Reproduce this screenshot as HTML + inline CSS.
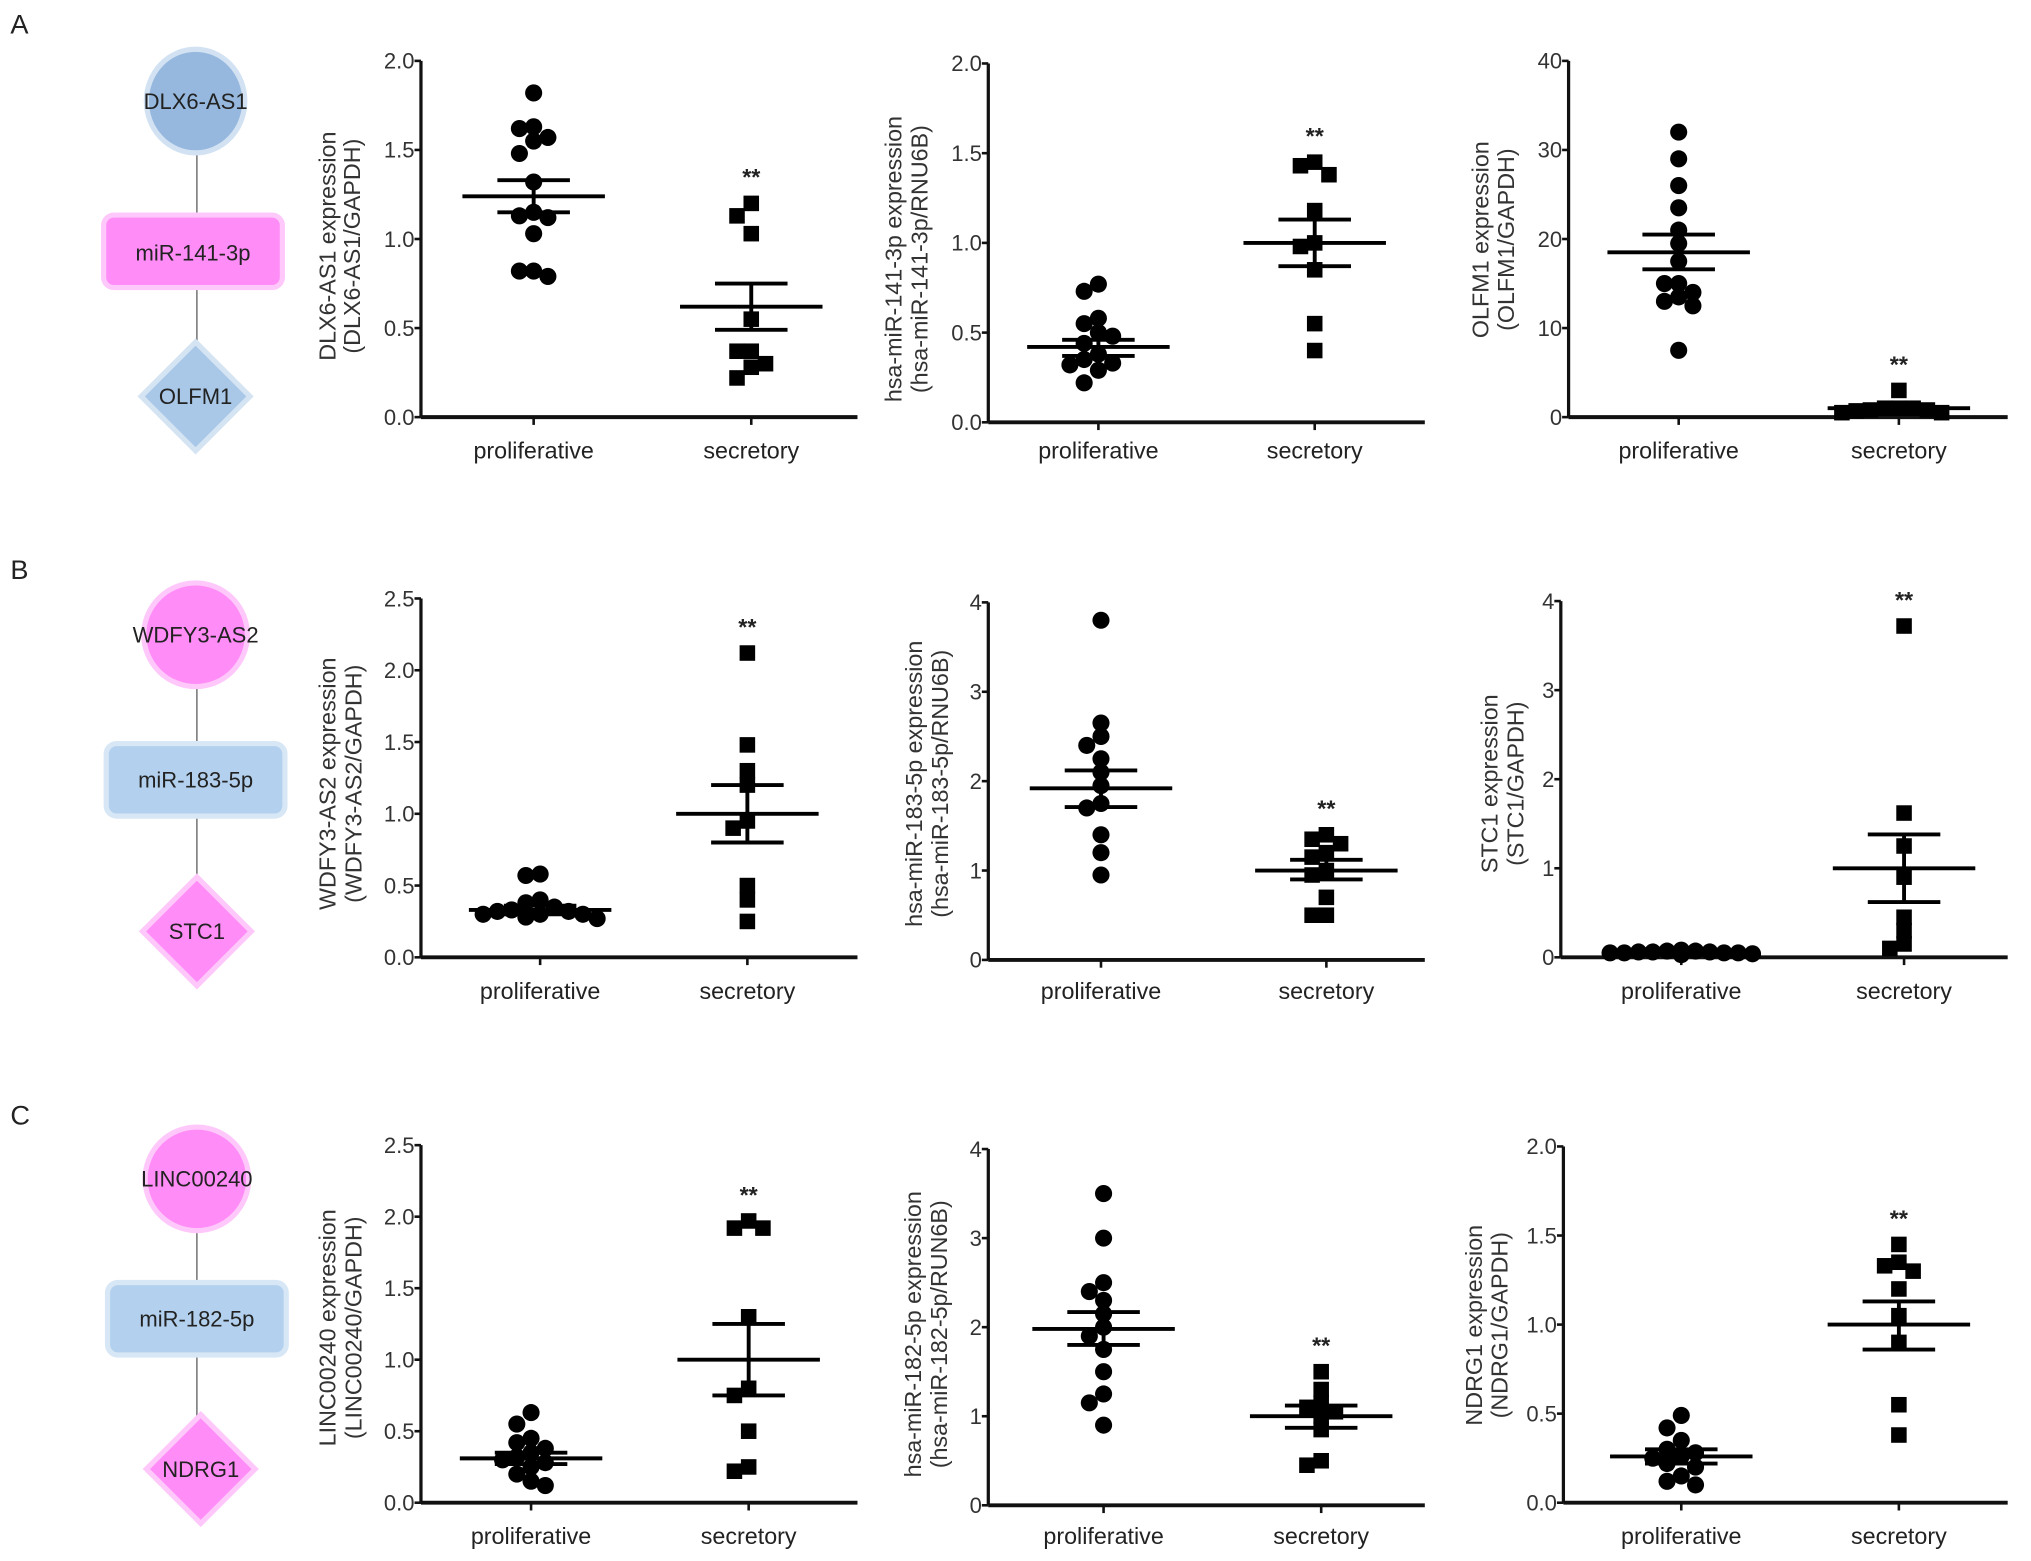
<!DOCTYPE html>
<html><head><meta charset="utf-8"><style>
html,body{margin:0;padding:0;background:#fff;}
svg{display:block;font-family:"Liberation Sans",Arial,sans-serif;}
</style></head><body>
<svg id="fig" width="2031" height="1561" viewBox="0 0 1568 1205" preserveAspectRatio="none" xmlns="http://www.w3.org/2000/svg">
<g>
 <text x="8" y="26" font-size="21" fill="#222">A</text>
 <text x="8" y="447" font-size="21" fill="#222">B</text>
 <text x="8" y="868" font-size="21" fill="#222">C</text>
 <line x1="152" y1="100" x2="152" y2="280" stroke="#777" stroke-width="1.2"/>
 <line x1="152" y1="520" x2="152" y2="690" stroke="#777" stroke-width="1.2"/>
 <line x1="152" y1="940" x2="152" y2="1105" stroke="#777" stroke-width="1.2"/>
 <g><ellipse cx="151" cy="78" rx="38" ry="40" fill="#96b8de" stroke="#d2e2f3" stroke-width="4"/><text x="151" y="84" font-size="17" text-anchor="middle" fill="#222">DLX6-AS1</text></g>
 <g><rect x="80" y="166" width="138" height="56" rx="8" fill="#ff8cf7" stroke="#ffc8fb" stroke-width="4"/><text x="149" y="201" font-size="17" text-anchor="middle" fill="#222">miR-141-3p</text></g>
 <g><polygon points="151,264 193,306 151,348 109,306" fill="#a9c8e8" stroke="#d5e4f3" stroke-width="4"/><text x="151" y="312" font-size="17" text-anchor="middle" fill="#222">OLFM1</text></g>
 <g><ellipse cx="151" cy="490" rx="40" ry="40" fill="#ff8cf7" stroke="#ffc8fb" stroke-width="4"/><text x="151" y="496" font-size="17" text-anchor="middle" fill="#222">WDFY3-AS2</text></g>
 <g><rect x="82" y="574" width="138" height="56" rx="8" fill="#b3d1ee" stroke="#d8e7f6" stroke-width="4"/><text x="151" y="608" font-size="17" text-anchor="middle" fill="#222">miR-183-5p</text></g>
 <g><polygon points="152,677 194,719 152,761 110,719" fill="#ff8cf7" stroke="#ffc8fb" stroke-width="4"/><text x="152" y="725" font-size="17" text-anchor="middle" fill="#222">STC1</text></g>
 <g><ellipse cx="152" cy="910" rx="40" ry="40" fill="#ff8cf7" stroke="#ffc8fb" stroke-width="4"/><text x="152" y="916" font-size="17" text-anchor="middle" fill="#222">LINC00240</text></g>
 <g><rect x="83" y="990" width="138" height="56" rx="8" fill="#b3d1ee" stroke="#d8e7f6" stroke-width="4"/><text x="152" y="1024" font-size="17" text-anchor="middle" fill="#222">miR-182-5p</text></g>
 <g><polygon points="155,1092 197,1134 155,1176 113,1134" fill="#ff8cf7" stroke="#ffc8fb" stroke-width="4"/><text x="155" y="1140" font-size="17" text-anchor="middle" fill="#222">NDRG1</text></g>
</g>
</svg>
<script>
// ---- data ----
const categories = ["proliferative", "secretory"];
const a1Prolif = [1.82,1.63,1.57,1.62,1.55,1.48,1.32,1.15,1.12,1.13,1.03,0.82,0.79,0.82];
const a1Secret = [1.2,1.13,1.03,0.55,0.37,0.3,0.22,0.28,0.37];
const a2Prolif = [0.77,0.73,0.58,0.55,0.5,0.48,0.44,0.38,0.32,0.29,0.35,0.33,0.22];
const a2Secret = [1.45,1.43,1.38,1.18,1.0,0.98,0.85,0.55,0.4];
const a3Prolif = [32,29,26,23.5,21,19.5,17.5,15,14,13,12.5,13.5,15,7.5];
const a3Secret = [3,1,1,0.8,0.8,0.5,1,0.5,0.7];
const b1Prolif = [0.58,0.57,0.4,0.38,0.35,0.33,0.32,0.3,0.28,0.3,0.27,0.32,0.3];
const b1Secret = [2.12,1.48,1.3,1.2,0.95,0.9,0.5,0.4,0.25];
const b2Prolif = [3.8,2.65,2.5,2.4,2.25,2.1,1.95,1.75,1.7,1.4,1.2,0.95];
const b2Secret = [1.4,1.35,1.3,1.2,1.15,1.0,0.95,0.7,0.5,0.5];
const b3Prolif = [0.06,0.05,0.07,0.04,0.05,0.06,0.03,0.05,0.08,0.04,0.06,0.05,0.07];
const b3Secret = [3.72,1.62,1.25,0.9,0.45,0.3,0.15,0.1];
const c1Prolif = [0.63,0.55,0.45,0.42,0.38,0.35,0.32,0.3,0.28,0.25,0.2,0.15,0.12];
const c1Secret = [1.97,1.92,1.92,1.3,0.8,0.75,0.5,0.25,0.22];
const c2Prolif = [3.5,3.0,2.5,2.4,2.3,2.15,2.0,1.9,1.75,1.5,1.25,1.15,0.9];
const c2Secret = [1.5,1.3,1.15,1.1,1.05,1.0,0.85,0.5,0.45];
const c3Prolif = [0.49,0.42,0.35,0.3,0.28,0.26,0.25,0.22,0.2,0.15,0.12,0.1];
const c3Secret = [1.45,1.35,1.33,1.3,1.2,1.05,0.9,0.55,0.38];
const a1Mean = [1.24,0.62]; const a1Hi = [1.33,0.75]; const a1Lo = [1.15,0.49];
const a2Mean = [0.42,1.0];  const a2Hi = [0.46,1.13]; const a2Lo = [0.37,0.87];
const a3Mean = [18.5,1.0];  const a3Hi = [20.5,1.1];  const a3Lo = [16.6,0.9];
const b1Mean = [0.33,1.0];  const b1Hi = [0.36,1.2];  const b1Lo = [0.30,0.8];
const b2Mean = [1.92,1.0];  const b2Hi = [2.12,1.12]; const b2Lo = [1.71,0.9];
const b3Mean = [0.05,1.0];  const b3Hi = [0.06,1.38]; const b3Lo = [0.04,0.62];
const c1Mean = [0.31,1.0];  const c1Hi = [0.35,1.25]; const c1Lo = [0.27,0.75];
const c2Mean = [1.98,1.0];  const c2Hi = [2.17,1.12]; const c2Lo = [1.8,0.87];
const c3Mean = [0.26,1.0];  const c3Hi = [0.30,1.13]; const c3Lo = [0.22,0.86];
const ticksA1 = ["0.0","0.5","1.0","1.5","2.0"];
const ticksA2 = ["0.0","0.5","1.0","1.5","2.0"];
const ticksA3 = ["0","10","20","30","40"];
const ticksB1 = ["0.0","0.5","1.0","1.5","2.0","2.5"];
const ticksB2 = ["0","1","2","3","4"];
const ticksB3 = ["0","1","2","3","4"];
const ticksC1 = ["0.0","0.5","1.0","1.5","2.0","2.5"];
const ticksC2 = ["0","1","2","3","4"];
const ticksC3 = ["0.0","0.5","1.0","1.5","2.0"];
const labelsA1 = ["DLX6-AS1 expression","(DLX6-AS1/GAPDH)"];
const labelsA2 = ["hsa-miR-141-3p expression","(hsa-miR-141-3p/RNU6B)"];
const labelsA3 = ["OLFM1 expression","(OLFM1/GAPDH)"];
const labelsB1 = ["WDFY3-AS2 expression","(WDFY3-AS2/GAPDH)"];
const labelsB2 = ["hsa-miR-183-5p expression","(hsa-miR-183-5p/RNU6B)"];
const labelsB3 = ["STC1 expression","(STC1/GAPDH)"];
const labelsC1 = ["LINC00240 expression","(LINC00240/GAPDH)"];
const labelsC2 = ["hsa-miR-182-5p expression","(hsa-miR-182-5p/RUN6B)"];
const labelsC3 = ["NDRG1 expression","(NDRG1/GAPDH)"];

const panels = [
 {id:"a1",P:a1Prolif,S:a1Secret,M:a1Mean,H:a1Hi,L:a1Lo,T:ticksA1,Y:labelsA1,ax:325,y0:322,y1:47,xEnd:662,cx:[412,580],ly:[253,272],lc:190,cy:354},
 {id:"a2",P:a2Prolif,S:a2Secret,M:a2Mean,H:a2Hi,L:a2Lo,T:ticksA2,Y:labelsA2,ax:763,y0:326,y1:49,xEnd:1100,cx:[848,1015],ly:[690,710],lc:200,cy:354},
 {id:"a3",P:a3Prolif,S:a3Secret,M:a3Mean,H:a3Hi,L:a3Lo,T:ticksA3,Y:labelsA3,ax:1211,y0:322,y1:47,xEnd:1550,cx:[1296,1466],ly:[1143,1163],lc:185,cy:354},
 {id:"b1",P:b1Prolif,S:b1Secret,M:b1Mean,H:b1Hi,L:b1Lo,T:ticksB1,Y:labelsB1,ax:325,y0:739,y1:462,xEnd:662,cx:[417,577],ly:[253,273],lc:605,cy:771},
 {id:"b2",P:b2Prolif,S:b2Secret,M:b2Mean,H:b2Hi,L:b2Lo,T:ticksB2,Y:labelsB2,ax:763,y0:741,y1:465,xEnd:1100,cx:[850,1024],ly:[706,726],lc:605,cy:771},
 {id:"b3",P:b3Prolif,S:b3Secret,M:b3Mean,H:b3Hi,L:b3Lo,T:ticksB3,Y:labelsB3,ax:1205,y0:739,y1:464,xEnd:1550,cx:[1298,1470],ly:[1150,1170],lc:605,cy:771},
 {id:"c1",P:c1Prolif,S:c1Secret,M:c1Mean,H:c1Hi,L:c1Lo,T:ticksC1,Y:labelsC1,ax:325,y0:1160,y1:884,xEnd:662,cx:[410,578],ly:[253,273],lc:1025,cy:1192},
 {id:"c2",P:c2Prolif,S:c2Secret,M:c2Mean,H:c2Hi,L:c2Lo,T:ticksC2,Y:labelsC2,ax:763,y0:1162,y1:887,xEnd:1100,cx:[852,1020],ly:[705,725],lc:1030,cy:1192},
 {id:"c3",P:c3Prolif,S:c3Secret,M:c3Mean,H:c3Hi,L:c3Lo,T:ticksC3,Y:labelsC3,ax:1207,y0:1160,y1:885,xEnd:1550,cx:[1298,1466],ly:[1138,1158],lc:1023,cy:1192}
];
const NS="http://www.w3.org/2000/svg";
const svg=document.getElementById('fig');
function mk(tag,attrs,parent){const e=document.createElementNS(NS,tag);for(const k in attrs)e.setAttribute(k,attrs[k]);parent.appendChild(e);return e;}
function swarm(vals,yf,cx){
  const placed=[];const d=11;
  const order=vals.map((v,i)=>i).sort((a,b)=>vals[b]-vals[a]);
  const res=new Array(vals.length);
  order.forEach(i=>{const y=yf(vals[i]);
    const cands=[0,-d,d,-2*d,2*d,-3*d,3*d,-4*d,4*d,-5*d,5*d];
    let x=cx;
    for(const o of cands){const tx=cx+o;if(placed.every(p=>Math.hypot(p[0]-tx,p[1]-y)>=d-1)){x=tx;break;}}
    placed.push([x,y]);res[i]=[x,y];});
  return res;
}
panels.forEach(p=>{
  const g=mk('g',{},svg);
  
  
  const vmax=parseFloat(p.T[p.T.length-1]);
  const yf=v=>p.y0-(v/vmax)*(p.y0-p.y1);
  const ya=mk('line',{x1:p.ax,y1:p.y1,x2:p.ax,y2:p.y0,stroke:'#111','stroke-width':2.5},g);
  
  
  const xa=mk('line',{x1:p.ax,y1:p.y0,x2:p.xEnd,y2:p.y0,stroke:'#111','stroke-width':3},g);
  
  
  p.T.forEach(t=>{const y=yf(parseFloat(t));
    mk('line',{x1:p.ax-5,y1:y,x2:p.ax,y2:y,stroke:'#111','stroke-width':2},g);
    const tl=mk('text',{x:p.ax-5,y:y+6,'font-size':17,'text-anchor':'end',fill:'#333'},g);
    tl.textContent=t;
    
    
  });
  categories.forEach((c,i)=>{
    mk('line',{x1:p.cx[i],y1:p.y0,x2:p.cx[i],y2:p.y0+6,stroke:'#111','stroke-width':2},g);
    const cl=mk('text',{x:p.cx[i],y:p.cy,'font-size':18,'text-anchor':'middle',fill:'#222'},g);
    cl.textContent=c;
    
    
  });
  p.Y.forEach((s,i)=>{
    const t=mk('text',{x:0,y:0,'font-size':18,'text-anchor':'middle',fill:'#333',transform:`translate(${p.ly[i]+6},${p.lc}) rotate(-90)`},g);
    t.textContent=s;
    
    
  });
  swarm(p.P,yf,p.cx[0]).forEach(([x,y])=>{
    const c=mk('circle',{cx:x,cy:y,r:6.6,fill:'#000'},g);
    
    
  });
  swarm(p.S,yf,p.cx[1]).forEach(([x,y])=>{
    const r=mk('rect',{x:x-6,y:y-6,width:12,height:12,fill:'#000'},g);
    
    
  });
  [0,1].forEach(i=>{
    const x=p.cx[i];
    const ml=mk('line',{x1:x-55,y1:yf(p.M[i]),x2:x+55,y2:yf(p.M[i]),stroke:'#000','stroke-width':3},g);
    
    
    mk('line',{x1:x,y1:yf(p.H[i]),x2:x,y2:yf(p.L[i]),stroke:'#000','stroke-width':3},g);
    mk('line',{x1:x-28,y1:yf(p.H[i]),x2:x+28,y2:yf(p.H[i]),stroke:'#000','stroke-width':3},g);
    mk('line',{x1:x-28,y1:yf(p.L[i]),x2:x+28,y2:yf(p.L[i]),stroke:'#000','stroke-width':3},g);
  });
  const top=Math.max(Math.max(...p.S),p.H[1]);
  const st=mk('text',{x:p.cx[1],y:yf(top)-14,'font-size':18,'font-weight':'bold','text-anchor':'middle',fill:'#222'},g);
  st.textContent='**';
  
  
});
</script>
</body></html>
